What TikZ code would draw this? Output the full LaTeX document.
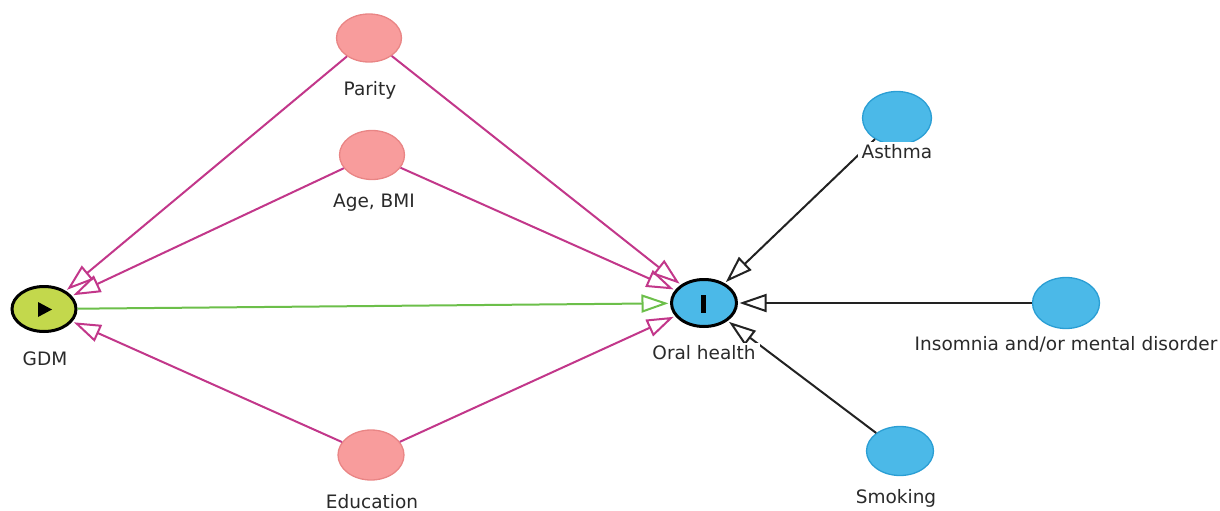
\documentclass[tikz,border=0pt]{standalone}
\usepackage{fontspec}
\setmainfont{DejaVu Sans}
\usetikzlibrary{shapes.geometric,arrows.meta}
\definecolor{pinkfill}{HTML}{F89C9C}
\definecolor{pinkdraw}{HTML}{E98585}
\definecolor{bluefill}{HTML}{4BB9E8}
\definecolor{bluedraw}{HTML}{2A9ED4}
\definecolor{expfill}{HTML}{C3D84C}
\definecolor{magedge}{HTML}{C2378A}
\definecolor{greenedge}{HTML}{6CBF4A}
\definecolor{blackedge}{HTML}{222222}
\definecolor{labeltext}{HTML}{2A2A2A}
\begin{document}
\begin{tikzpicture}[x=1pt,y=-1pt,
 var/.style={ellipse, inner sep=0pt},
 conf/.style={var, fill=pinkfill, draw=pinkdraw, line width=1.3pt},
 other/.style={var, fill=bluefill, draw=bluedraw, line width=1.3pt},
 expo/.style={var, fill=expfill, draw=black, line width=3pt},
 outc/.style={var, fill=bluefill, draw=black, line width=3pt},
 lbl/.style={anchor=base, fill=white, inner xsep=4pt, inner ysep=1.5pt, text=labeltext, font=\fontsize{18.5}{21}\selectfont},
 arr/.style={line width=2pt, -{Triangle[open, length=27pt, width=18pt]}, shorten >=1.5pt},
 biasing/.style={arr, draw=magedge},
 causal/.style={arr, draw=greenedge},
 plain/.style={arr, draw=blackedge}
]
\useasboundingbox (0,0) rectangle (1220,511);

% variables
\node[expo, minimum width=64pt, minimum height=45pt] (gdm) at (44,309) {};
\node[conf, minimum width=65pt, minimum height=48pt] (parity) at (369,38) {};
\node[conf, minimum width=65pt, minimum height=49pt] (age) at (372,155) {};
\node[conf, minimum width=66pt, minimum height=50pt] (edu) at (371,455) {};
\node[outc, minimum width=65pt, minimum height=47pt] (oral) at (704,303) {};
\node[other, minimum width=69pt, minimum height=53pt] (asthma) at (897,118) {};
\node[other, minimum width=67pt, minimum height=51pt] (insom) at (1066,303) {};
\node[other, minimum width=67pt, minimum height=49pt] (smoke) at (900,451) {};

% symbols
\fill[black] (38,302) -- (38,317) -- (52,309.5) -- cycle;
\fill[black] (700.5,295) rectangle (705.5,313);

% edges
\draw[biasing] (parity) -- (gdm);
\draw[biasing] (parity) -- (oral);
\draw[biasing] (age) -- (gdm);
\draw[biasing] (age) -- (oral);
\draw[biasing] (edu) -- (gdm);
\draw[biasing] (edu) -- (oral);
\draw[causal] (gdm) -- (oral);
\draw[plain] (asthma) -- (oral);
\draw[plain] (insom) -- (oral);
\draw[plain] (smoke) -- (oral);

% labels
\node[lbl] (gdmL) at (45,365) {GDM};
\node[lbl] (parityL) at (370,95) {Parity};
\node[lbl] (ageL) at (374,207) {Age, BMI};
\node[lbl] (eduL) at (372,508) {Education};
\node[lbl] (oralL) at (704,359) {Oral health};
\node[lbl] (asthmaL) at (897,158) {Asthma};
\node[lbl] (insomL) at (1066,350) {Insomnia and/or mental disorder};
\node[lbl] (smokeL) at (896,503) {Smoking};
\end{tikzpicture}
\end{document}
